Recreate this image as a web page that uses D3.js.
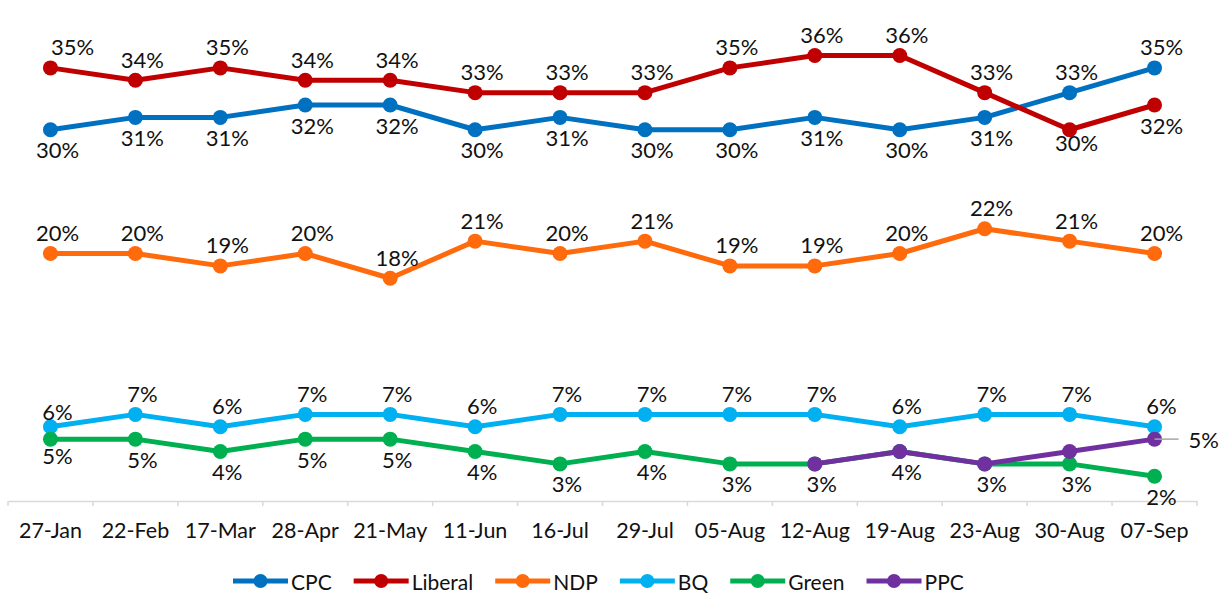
<!DOCTYPE html>
<html>
<head>
<meta charset="utf-8">
<script src="https://cdn.jsdelivr.net/npm/d3@7"></script>
<style>
  body { margin: 0; background: #fff; }
  svg text { font-family: Lato, "Open Sans", sans-serif; fill: #111; }
</style>
</head>
<body>
<div id="chart"></div>
<script>
// poll dates
const dates = ["27-Jan", "22-Feb", "17-Mar", "28-Apr", "21-May", "11-Jun", "16-Jul",
               "29-Jul", "05-Aug", "12-Aug", "19-Aug", "23-Aug", "30-Aug", "07-Sep"];

const cpc     = [30, 31, 31, 32, 32, 30, 31, 30, 30, 31, 30, 31, 33, 35];
const liberal = [35, 34, 35, 34, 34, 33, 33, 33, 35, 36, 36, 33, 30, 32];
const ndp     = [20, 20, 19, 20, 18, 21, 20, 21, 19, 19, 20, 22, 21, 20];
const bq      = [6, 7, 6, 7, 7, 6, 7, 7, 7, 7, 6, 7, 7, 6];
const green   = [5, 5, 4, 5, 5, 4, 3, 4, 3, 3, 4, 3, 3, 2];
const ppc     = [null, null, null, null, null, null, null, null, null, 3, 4, 3, 4, 5];

const seriesNames  = ["CPC", "Liberal", "NDP", "BQ", "Green", "PPC"];
const seriesValues = [cpc, liberal, ndp, bq, green, ppc];
const seriesColors = ["#0070C0", "#C00000", "#FF6A0D", "#00B0F0", "#00B050", "#7030A0"];

const width = 1225, height = 594;

let svg = d3.select("#chart")
            .append("svg")
            .attr("width", width)
            .attr("height", height);

let x = d3.scaleBand()
          .domain(dates)
          .range([8, 1197]);

let y = d3.scaleLinear()
          .domain([0, 40])
          .range([501, 6]);

let cx = d => x(d) + x.bandwidth() / 2;

// x axis (Excel style: ticks between categories)
let axisG = svg.append("g")
               .attr("transform", "translate(0," + y(0) + ")");

axisG.call(d3.axisBottom(x).tickSize(0).tickPadding(22))
     .call(g => g.select(".domain").attr("stroke", "#d9d9d9").attr("stroke-width", 1.5))
     .selectAll("text")
     .style("font-size", "21.5px")
     .style("font-family", "Lato, sans-serif")
     .attr("fill", "#111");

let bounds = dates.map(d => x(d)).concat([x.range()[1]]);
axisG.selectAll("line.bt")
     .data(bounds)
     .join("line")
     .attr("class", "bt")
     .attr("x1", d => d).attr("x2", d => d)
     .attr("y1", 0).attr("y2", 5)
     .attr("stroke", "#d9d9d9")
     .attr("stroke-width", 1.5);

let line = d3.line()
             .defined(d => d.v !== null)
             .x(d => cx(d.date))
             .y(d => y(d.v));

// where each data label sits
function placement(name, i) {
    let last = dates.length - 1;
    if (name === "PPC") return i === last ? "right" : "none";
    if (name === "CPC") return i >= last - 1 ? "above" : "below";
    if (name === "Liberal") return (i >= last - 1) ? "below" : "above";
    if (name === "Green") return "below";
    return "above";
}

seriesNames.forEach((name, k) => {
    let pts = seriesValues[k].map((v, i) => ({ date: dates[i], v: v, i: i }));
    let g = svg.append("g");

    g.append("path")
     .datum(pts)
     .attr("d", line)
     .attr("fill", "none")
     .attr("stroke", seriesColors[k])
     .attr("stroke-width", 5)
     .attr("stroke-linejoin", "round");

    g.selectAll("circle")
     .data(pts.filter(d => d.v !== null))
     .join("circle")
     .attr("cx", d => cx(d.date))
     .attr("cy", d => y(d.v))
     .attr("r", 7.5)
     .attr("fill", seriesColors[k]);
});

// labels on top of all lines
seriesNames.forEach((name, k) => {
    let pts = seriesValues[k].map((v, i) => ({ date: dates[i], v: v, i: i }))
                             .filter(d => d.v !== null);
    pts.forEach(d => {
        let pos = placement(name, d.i);
        if (pos === "none") return;
        let px = cx(d.date), py = y(d.v);
        if (pos === "right") {
            svg.append("line")
               .attr("x1", px).attr("x2", px + 24)
               .attr("y1", py).attr("y2", py)
               .attr("stroke", "#a6a6a6")
               .attr("stroke-width", 1.5);
            svg.append("text")
               .attr("x", px + 34).attr("y", py)
               .attr("dominant-baseline", "central")
               .style("font-size", "22px")
               .text(d.v + "%");
            return;
        }
        let dx = 7;
        let dy = pos === "above" ? -21 : 20;
        if (name === "Liberal" && d.i === 0) dx = 22;
        if (name === "BQ" && d.i === 0) dy = -15;
        if (name === "Green" && d.i === 0) dy = 16;
        if (name === "Liberal" && d.i === dates.length - 2) dy = 13;
        svg.append("text")
           .attr("x", px + dx).attr("y", py + dy)
           .attr("text-anchor", "middle")
           .attr("dominant-baseline", "central")
           .style("font-size", "22px")
           .text(d.v + "%");
    });
});

// legend
let legend = svg.append("g").attr("transform", "translate(0,581)");
let lx = 233;
seriesNames.forEach((name, k) => {
    let item = legend.append("g").attr("transform", "translate(" + lx + ",0)");
    item.append("line")
        .attr("x1", 0).attr("x2", 55)
        .attr("y1", 0).attr("y2", 0)
        .attr("stroke", seriesColors[k])
        .attr("stroke-width", 5);
    item.append("circle")
        .attr("cx", 27.5).attr("cy", 0).attr("r", 7)
        .attr("fill", seriesColors[k]);
    let t = item.append("text")
        .attr("x", 58).attr("y", 0)
        .attr("dominant-baseline", "central")
        .style("font-size", "21px")
        .text(name);
    lx += 58 + t.node().getComputedTextLength() + 22;
});
</script>
</body>
</html>
